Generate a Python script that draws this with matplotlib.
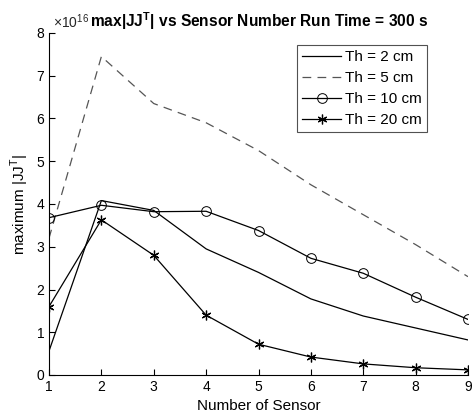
import numpy as np
import matplotlib
matplotlib.use('Agg')
import matplotlib.pyplot as plt

plt.rcParams['font.family'] = ['Liberation Sans', 'DejaVu Sans']
plt.rcParams['mathtext.fontset'] = 'custom'
plt.rcParams['mathtext.rm'] = 'Liberation Sans'
plt.rcParams['mathtext.bf'] = 'Liberation Sans:bold'

sensors = [1, 2, 3, 4, 5, 6, 7, 8, 9]
th2 = [0.56, 4.08, 3.85, 2.95, 2.40, 1.78, 1.38, 1.10, 0.82]
th5 = [3.20, 7.45, 6.35, 5.90, 5.25, 4.45, 3.75, 3.05, 2.30]
th10 = [3.68, 3.97, 3.82, 3.83, 3.38, 2.73, 2.38, 1.82, 1.30]
th20 = [1.60, 3.63, 2.80, 1.40, 0.72, 0.42, 0.26, 0.17, 0.12]
labels = ['Th = 2 cm', 'Th = 5 cm', 'Th = 10 cm', 'Th = 20 cm']

fig = plt.figure(figsize=(4.72, 4.18), dpi=100)
ax = fig.add_axes([49/472, 1-375/418, (468-49)/472, (375-33)/418])

ax.plot(sensors, th2, color='black', lw=0.9, label=labels[0])
ax.plot(sensors, th5, color='#555555', lw=0.9, ls=(0, (7, 5)), label=labels[1])
ax.plot(sensors, th10, color='black', lw=0.9, marker='o', ms=7, mfc='none', mew=0.7, label=labels[2])
ax.plot(sensors, th20, color='black', lw=0.9, marker=(6, 2, 0), ms=7, mew=0.9, label=labels[3])

ax.set_xlim(1, 9)
ax.set_ylim(0, 8)
ax.set_xticks(sensors)
ax.set_yticks(range(9))
ax.spines['top'].set_visible(False)
ax.spines['right'].set_visible(False)
ax.tick_params(direction='in', length=4, labelsize=10, width=0.8)
ax.set_xlabel('Number of Sensor', fontsize=11)
ax.set_ylabel('maximum |JJ$^\\mathregular{T}$|', fontsize=11)
fig.text(53/472, 1-28/418, '$\\times$10$^{\\mathregular{16}}$', fontsize=10,
         ha='left', va='baseline', color='#262626')
fig.text(90/472, 1-27/418, 'max|JJ$^\\mathbf{T}$| vs Sensor Number Run Time = 300 s',
         ha='left', va='baseline', fontsize=11.2, fontweight='bold')

leg = ax.legend(loc='upper right', bbox_to_anchor=(427/472, 1-45/418), bbox_transform=fig.transFigure,
                fontsize=11, frameon=True, fancybox=False, handlelength=2.55, borderpad=0.35,
                labelspacing=0.45, handletextpad=0.25, borderaxespad=0)
leg.get_frame().set_edgecolor('#262626')
leg.get_frame().set_linewidth(0.8)

fig.savefig('out.png', dpi=100)
